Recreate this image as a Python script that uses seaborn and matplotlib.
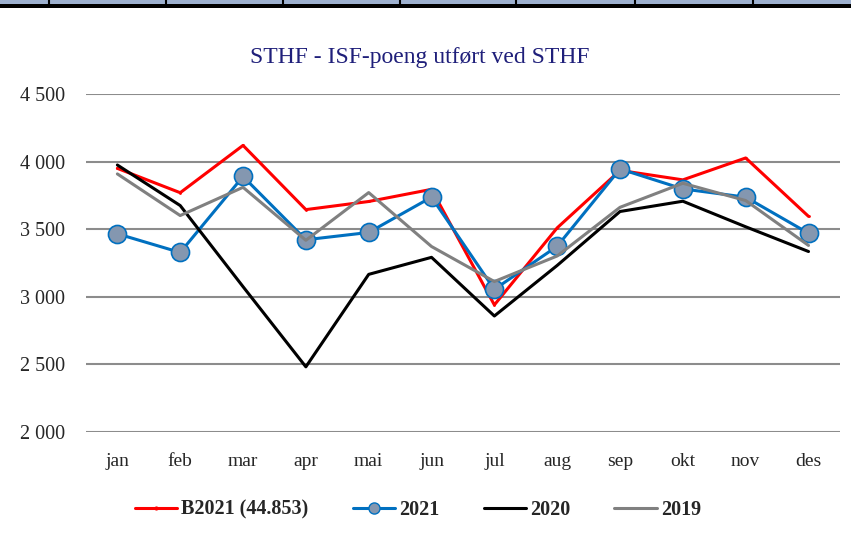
import seaborn as sns
import pandas as pd
import matplotlib.pyplot as plt
from matplotlib.patches import Rectangle
from matplotlib.lines import Line2D
from matplotlib.ticker import FuncFormatter

maaneder = ['jan', 'feb', 'mar', 'apr', 'mai', 'jun', 'jul', 'aug', 'sep', 'okt', 'nov', 'des']
b2021 = [3950, 3770, 4120, 3645, 3705, 3795, 2940, 3510, 3935, 3865, 4027, 3595]
aar2021 = [3466, 3328, 3890, 3422, 3476, 3737, 3055, 3374, 3946, 3798, 3737, 3470]
aar2020 = [3975, 3675, 3075, 2482, 3166, 3292, 2858, 3232, 3631, 3707, 3518, 3335]
aar2019 = [3909, 3601, 3810, 3418, 3771, 3372, 3113, 3302, 3662, 3840, 3712, 3380]

df = pd.DataFrame({'mnd': maaneder, 'B2021': b2021, '2021': aar2021,
                   '2020': aar2020, '2019': aar2019})

sns.set_theme(style='white')
plt.rcParams['font.family'] = ['Liberation Serif', 'DejaVu Serif']

fig = plt.figure(figsize=(8.51, 5.46), dpi=100)
ax = fig.add_axes([0.101, 0.2088, 0.886, 0.619])

# samme rekkefølge som i Excel: 2019 tegnes øverst
sns.lineplot(data=df, x='mnd', y='B2021', ax=ax, color='#FF0000', lw=2.2, sort=False, zorder=2,
             marker='.', markersize=4, markeredgewidth=0)
sns.lineplot(data=df, x='mnd', y='2021', ax=ax, color='#0070C0', lw=2.2, sort=False, zorder=3,
             marker='o', markersize=13, markerfacecolor='#8497B0', markeredgecolor='#0070C0',
             markeredgewidth=1.2)
sns.lineplot(data=df, x='mnd', y='2020', ax=ax, color='black', lw=2.2, sort=False, zorder=4)
sns.lineplot(data=df, x='mnd', y='2019', ax=ax, color='#808080', lw=2.2, sort=False, zorder=5)

ax.set_ylim(2000, 4500)
ax.set_xlim(-0.5, 11.5)
ax.set_yticks([2000, 2500, 3000, 3500, 4000, 4500])
ax.yaxis.set_major_formatter(FuncFormatter(lambda v, p: f'{int(v):,}'.replace(',', ' ')))
ax.grid(axis='y', color='#8c8c8c', lw=1.5)
ax.grid(axis='x', visible=False)
for s in ax.spines.values():
    s.set_visible(False)
ax.tick_params(axis='y', length=0, pad=15, labelsize=14.5)
ax.tick_params(axis='x', length=0, pad=15, labelsize=14)
ax.set_xlabel('')
ax.set_ylabel('')

fig.text(420 / 851, 1 - 57 / 546, 'STHF - ISF-poeng utført ved STHF', color='#1F1F7A',
         fontsize=17, ha='center', va='center')

handles = [
    Line2D([], [], color='#FF0000', lw=2.2, marker='.', markersize=4),
    Line2D([], [], color='#0070C0', lw=2.2, marker='o', markersize=8,
           markerfacecolor='#8497B0', markeredgecolor='#0070C0'),
    Line2D([], [], color='black', lw=2.2),
    Line2D([], [], color='#808080', lw=2.2),
]
labels = ['B2021 (44.853)', '2021', '2020', '2019']
fig.legend(handles, labels, loc='center', bbox_to_anchor=(0.491, 0.066), ncol=4,
           frameon=False, handlelength=2.1, columnspacing=2.2, handletextpad=0.2,
           prop={'weight': 'bold', 'size': 14.5})

# rest av tabellkant øverst
fig.add_artist(Rectangle((0, 1 - 4 / 546), 1, 4 / 546, transform=fig.transFigure,
                         color='#9DB0CE', lw=0))
fig.add_artist(Rectangle((0, 1 - 7.5 / 546), 1, 3.5 / 546, transform=fig.transFigure,
                         color='black', lw=0))
for xp in [49, 166, 283, 400, 516, 635, 753]:
    fig.add_artist(Line2D([xp / 851, xp / 851], [1 - 5 / 546, 1], transform=fig.transFigure,
                          color='black', lw=1.5))

fig.savefig('out.png', dpi=100)
